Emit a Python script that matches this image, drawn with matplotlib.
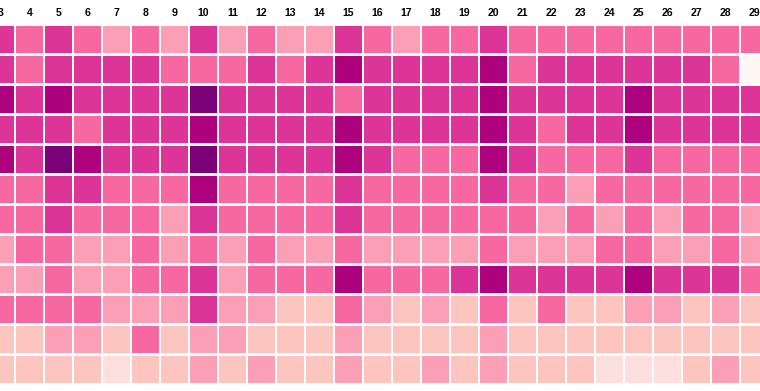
import numpy as np
import matplotlib
matplotlib.use("Agg")
import matplotlib.pyplot as plt
from matplotlib.colors import ListedColormap, BoundaryNorm

# Days shown across the top (the chart is cropped: 3 and 29 are partly visible)
days = list(range(3, 30))

# colour bucket for each cell (0 = lightest, 7 = darkest), one list per row
row_00 = [5, 4, 5, 4, 3, 4, 3, 5, 3, 4, 3, 3, 5, 4, 3, 4, 4, 5, 4, 4, 4, 4, 4, 4, 4, 4, 4]
row_01 = [5, 4, 5, 5, 5, 5, 4, 4, 4, 5, 4, 5, 6, 5, 5, 5, 5, 6, 4, 5, 5, 5, 5, 5, 5, 4, 0]
row_02 = [6, 5, 6, 5, 5, 5, 5, 7, 5, 5, 5, 5, 4, 5, 5, 5, 5, 6, 5, 5, 5, 5, 6, 5, 5, 5, 5]
row_03 = [5, 5, 5, 4, 5, 5, 5, 6, 5, 5, 5, 5, 6, 5, 5, 5, 5, 6, 5, 4, 5, 5, 6, 5, 5, 5, 5]
row_04 = [6, 5, 7, 6, 5, 5, 5, 7, 5, 5, 5, 5, 6, 5, 4, 4, 4, 6, 5, 4, 4, 4, 5, 4, 4, 4, 4]
row_05 = [4, 4, 5, 5, 4, 4, 4, 6, 4, 4, 4, 4, 5, 4, 4, 4, 4, 5, 4, 4, 3, 4, 4, 4, 4, 4, 4]
row_06 = [4, 4, 5, 4, 4, 4, 3, 5, 4, 4, 4, 4, 5, 4, 4, 4, 4, 4, 4, 3, 4, 3, 4, 3, 4, 4, 3]
row_07 = [3, 4, 4, 3, 3, 4, 3, 4, 3, 4, 3, 3, 4, 3, 3, 3, 3, 4, 3, 3, 3, 4, 4, 3, 3, 4, 3]
row_08 = [3, 3, 4, 3, 3, 4, 4, 5, 3, 4, 4, 4, 6, 4, 4, 4, 5, 6, 5, 5, 5, 5, 6, 5, 5, 5, 4]
row_09 = [4, 4, 4, 4, 3, 3, 3, 5, 3, 3, 2, 2, 4, 3, 2, 3, 2, 4, 2, 4, 2, 2, 3, 3, 2, 3, 2]
row_10 = [2, 2, 3, 3, 2, 4, 2, 3, 3, 2, 2, 2, 3, 2, 2, 2, 2, 3, 2, 2, 2, 2, 2, 2, 2, 2, 2]
row_11 = [2, 2, 2, 2, 1, 2, 2, 3, 2, 3, 2, 2, 3, 2, 2, 3, 2, 3, 2, 2, 2, 1, 1, 1, 2, 3, 2]

rows = [row_00, row_01, row_02, row_03, row_04, row_05,
        row_06, row_07, row_08, row_09, row_10, row_11]

# RdPu, 9 classes
palette = ["#fff7f3", "#fde0dd", "#fcc5c0", "#fa9fb5", "#f768a1",
           "#dd3497", "#ae017e", "#7a0177", "#49006a"]
cmap = ListedColormap(palette)
norm = BoundaryNorm(np.arange(-0.5, 9.5, 1), cmap.N)

fig = plt.figure(figsize=(7.6, 3.91), dpi=100)
ax = fig.add_axes([0, 0, 1, 1])

# ------------------ CELLS ------------------ #
for r, vals in enumerate(rows):
    ax.bar(days, [0.9] * len(days), bottom=r - 0.45, width=27 / 29,
           color=cmap(norm(vals)), edgecolor="none")

# ------------------ LABELS ------------------ #
for d in days:
    ax.text(d, -0.9, str(d), ha="center", va="center",
            fontsize=7.6, fontweight="bold", family="Liberation Sans",
            color="black")

# pixel mapping: 29 px per column, 30 px per row
ax.set_xlim(3 - 0.5 / 29, 3 + 759.5 / 29)
ax.set_ylim((391 - 39.5) / 30, -39.5 / 30)
ax.axis("off")

plt.savefig("out.png", dpi=100)
